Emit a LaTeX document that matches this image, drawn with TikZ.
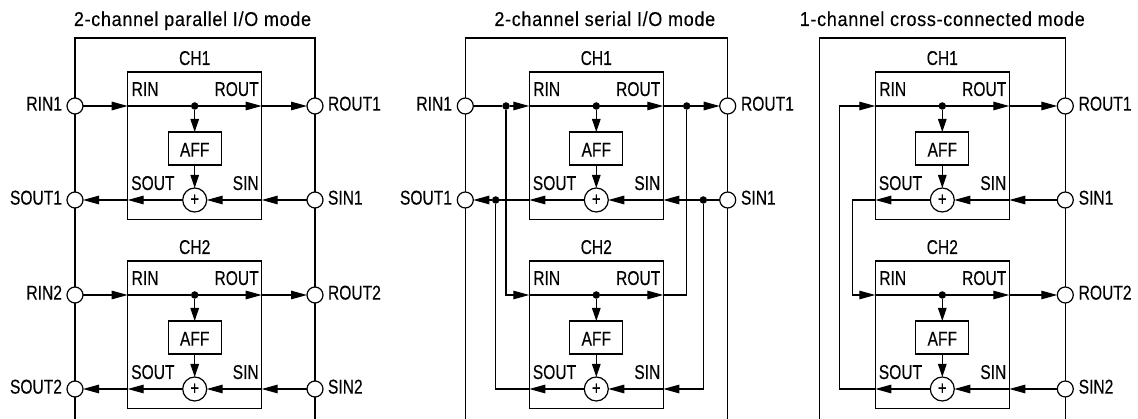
\documentclass[tikz,border=0pt]{standalone}
\usepackage{fontspec}
\setmainfont[FakeStretch=0.78,FakeBold=0.25]{Liberation Sans}
\newfontfamily\titlefont[FakeStretch=0.9,LetterSpace=3.5,FakeBold=0.25]{Liberation Sans}
\usetikzlibrary{arrows.meta,calc}
\tikzset{
  wire/.style={line width=1.2pt},
  harrow/.style={wire,-{Triangle[length=16pt,width=8.5pt]}},
  varrow/.style={wire,-{Triangle[length=13pt,width=8.5pt]}},
  box/.style={draw,line width=1.2pt,rectangle,inner sep=0,outer sep=0},
  port/.style={draw,line width=1.2pt,circle,fill=white,minimum size=16pt,inner sep=0,outer sep=0},
  summer/.style={draw,line width=1.2pt,circle,fill=white,minimum size=24pt,inner sep=0,outer sep=0,font=\fontsize{19}{19}\selectfont},
  junction/.style={circle,fill=black,minimum size=7.5pt,inner sep=0,outer sep=0},
  lab/.style={inner sep=0,outer sep=0,font=\fontsize{20}{22}\selectfont,text=black},
  titletext/.style={inner sep=0,outer sep=0,anchor=base,font=\titlefont\fontsize{20}{22}\selectfont,text=black}
}
\newcommand{\chan}[4]{%
  \node[box,minimum width=134pt,minimum height=147.5pt] (#1-box) at (#2,#3+73.75) {};
  \node[lab,anchor=base] (#1-name) at (#2,#3-7) {#4};
  \node[box,fill=white,minimum width=53pt,minimum height=33pt] (#1-aff) at (#2,#3+76.5) {};
  \node[lab,anchor=base] (#1-afft) at (#2,#3+84.7) {AFF};
  \node[junction] (#1-dot) at (#2,#3+34) {};
  \node[summer] (#1-sum) at (#2,#3+128) {+};
  \coordinate (#1-in) at (#2-67,#3+34);
  \coordinate (#1-out) at (#2+67,#3+34);
  \coordinate (#1-sl) at (#2-67,#3+128);
  \coordinate (#1-sr) at (#2+67,#3+128);
  \node[lab,anchor=base west] (#1-rinl) at (#2-63,#3+24) {RIN};
  \node[lab,anchor=base east] (#1-routl) at (#2+64,#3+24) {ROUT};
  \node[lab,anchor=base west] (#1-soutl) at (#2-63.5,#3+118) {SOUT};
  \node[lab,anchor=base east] (#1-sinl) at (#2+64,#3+118) {SIN};
  \draw[wire] (#1-in) -- (#1-dot);
  \draw[harrow] (#1-dot) -- (#1-out);
  \draw[varrow] (#1-dot) -- (#1-aff);
  \draw[varrow] (#1-aff) -- (#1-sum);
  \draw[harrow] (#1-sum) -- (#1-sl);
  \draw[harrow] (#1-sr) -- (#1-sum);
}
\begin{document}
\begin{tikzpicture}[x=1pt,y=-1pt]
\useasboundingbox (0,0) rectangle (1138,419);
% titles
\node[titletext] (t1) at (192.5,26) {2-channel parallel I/O mode};
\node[titletext] (t2) at (604.8,26) {2-channel serial I/O mode};
\node[titletext] (t3) at (942.3,26) {1-channel cross-connected mode};
% frames
\coordinate (f1a) at (75,419); \coordinate (f1b) at (75,38); \coordinate (f1c) at (315,38); \coordinate (f1d) at (315,419);
\coordinate (f2a) at (465.3,419); \coordinate (f2b) at (465.3,38); \coordinate (f2c) at (727.7,38); \coordinate (f2d) at (727.7,419);
\coordinate (f3a) at (819.3,419); \coordinate (f3b) at (819.3,38); \coordinate (f3c) at (1065.3,38); \coordinate (f3d) at (1065.3,419);
\draw[wire] (f1a) -- (f1b) -- (f1c) -- (f1d);
\draw[wire] (f2a) -- (f2b) -- (f2c) -- (f2d);
\draw[wire] (f3a) -- (f3b) -- (f3c) -- (f3d);
% panel 1
\chan{a1}{194.7}{72}{CH1}
\chan{a2}{194.7}{261}{CH2}
\foreach \n/\y/\l/\r in {u/106/RIN1/ROUT1,v/200/SOUT1/SIN1,w/295/RIN2/ROUT2,z/389/SOUT2/SIN2}{
  \node[port] (a\n l) at (75,\y) {};
  \node[port] (a\n r) at (315,\y) {};
  \node[lab,anchor=base east] (a\n ll) at (62,\y+4.6) {\l};
  \node[lab,anchor=base west] (a\n rl) at (328,\y+4.6) {\r};
}
\draw[harrow] (aul) -- (a1-in);
\draw[harrow] (a1-out) -- (aur);
\draw[harrow] (a1-sl) -- (avl);
\draw[harrow] (avr) -- (a1-sr);
\draw[harrow] (awl) -- (a2-in);
\draw[harrow] (a2-out) -- (awr);
\draw[harrow] (a2-sl) -- (azl);
\draw[harrow] (azr) -- (a2-sr);
% panel 2
\chan{b1}{596.3}{72}{CH1}
\chan{b2}{596.3}{261}{CH2}
\node[port] (bul) at (465.3,106) {};
\node[port] (bur) at (727.7,106) {};
\node[port] (bvl) at (465.3,200) {};
\node[port] (bvr) at (727.7,200) {};
\node[lab,anchor=base east] (bull) at (452,110.6) {RIN1};
\node[lab,anchor=base west] (burl) at (741,110.6) {ROUT1};
\node[lab,anchor=base east] (bvll) at (452,204.6) {SOUT1};
\node[lab,anchor=base west] (bvrl) at (741,204.6) {SIN1};
\node[junction] (bj1) at (506,106) {};
\node[junction] (bj2) at (686.7,106) {};
\node[junction] (bj3) at (495.7,200) {};
\node[junction] (bj4) at (703.3,200) {};
\draw[wire] (bul) -- (bj1);
\draw[harrow] (bj1) -- (b1-in);
\draw[wire] (b1-out) -- (bj2);
\draw[harrow] (bj2) -- (bur);
\draw[harrow] (bj3) -- (bvl);
\draw[wire] (b1-sl) -- (bj3);
\draw[wire] (bvr) -- (bj4);
\draw[harrow] (bj4) -- (b1-sr);
\draw[harrow] (bj1) |- (b2-in);
\draw[wire] (b2-out) -| (bj2);
\draw[wire] (b2-sl) -| (bj3);
\draw[harrow] (bj4) |- (b2-sr);
% panel 3
\chan{c1}{942.3}{72}{CH1}
\chan{c2}{942.3}{261}{CH2}
\node[port] (cur) at (1065.3,106) {};
\node[port] (cvr) at (1065.3,200) {};
\node[port] (cwr) at (1065.3,295) {};
\node[port] (czr) at (1065.3,389) {};
\node[lab,anchor=base west] (curl) at (1078.7,110.6) {ROUT1};
\node[lab,anchor=base west] (cvrl) at (1078.7,204.6) {SIN1};
\node[lab,anchor=base west] (cwrl) at (1078.7,299.6) {ROUT2};
\node[lab,anchor=base west] (czrl) at (1078.7,393.6) {SIN2};
\coordinate (cx1) at (839.3,106);
\coordinate (cx2) at (839.3,389);
\coordinate (cx3) at (852.7,200);
\coordinate (cx4) at (852.7,295);
\draw[harrow] (c1-out) -- (cur);
\draw[harrow] (cvr) -- (c1-sr);
\draw[harrow] (c2-out) -- (cwr);
\draw[harrow] (czr) -- (c2-sr);
\draw[harrow] (c2-sl) -- (cx2) -- (cx1) -- (c1-in);
\draw[harrow] (c1-sl) -- (cx3) -- (cx4) -- (c2-in);
\end{tikzpicture}
\end{document}
